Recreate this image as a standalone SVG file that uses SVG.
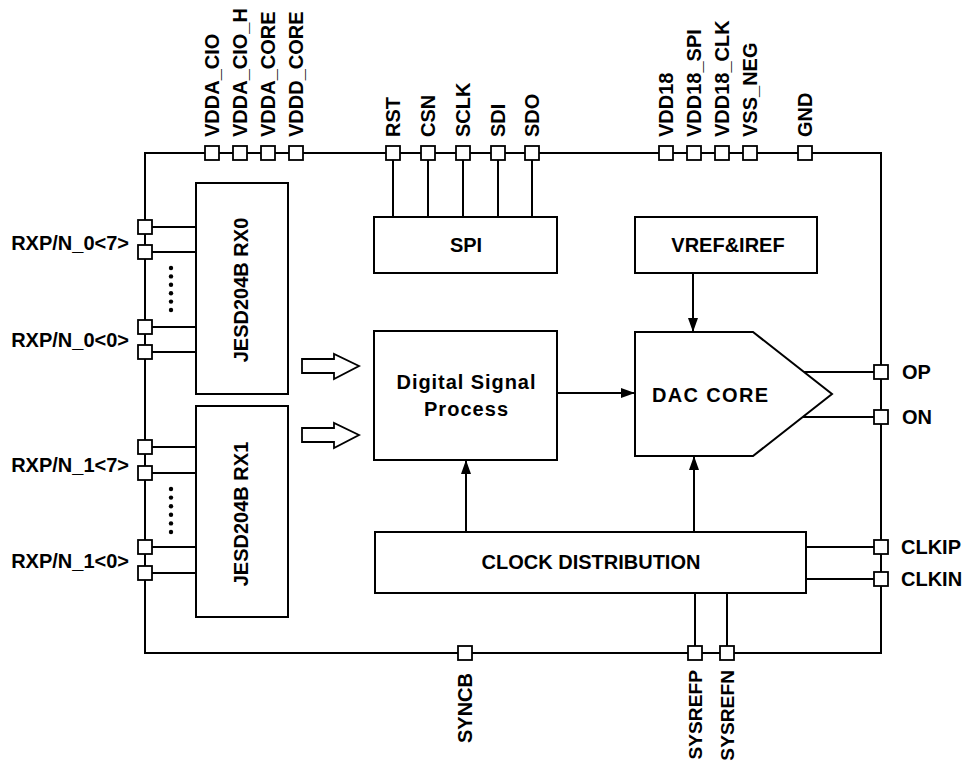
<svg xmlns="http://www.w3.org/2000/svg" width="962" height="763" viewBox="0 0 962 763">
<style>
.t{font-family:"Liberation Sans",Arial,sans-serif;font-weight:bold;font-size:20px;fill:#000}
.ts{font-size:19.2px}
.box{fill:#fff;stroke:#000;stroke-width:2}
.pin{fill:#fff;stroke:#000;stroke-width:1.8}
.w{fill:none;stroke:#000;stroke-width:2}
.hollow{fill:#fff;stroke:#000;stroke-width:1.8;stroke-linejoin:miter}
</style>
<defs>
<marker id="ah" markerUnits="userSpaceOnUse" markerWidth="14" markerHeight="10" viewBox="0 0 14 10" refX="14" refY="5" orient="auto">
<path d="M0,0 L14,5 L0,10 z" fill="#000"/>
</marker>
<rect id="p" x="-7" y="-7" width="14" height="14" class="pin"/>
</defs>
<rect id="white" x="0" y="0" width="962" height="763" fill="#fff"/>

<g id="frame">
<rect x="145" y="153" width="736" height="500" class="w"/>
</g>

<g id="connectors">
<path class="w" d="M393,160V217 M428,160V217 M463,160V217 M498,160V217 M532,160V217"/>
<path class="w" d="M152,227H196 M152,252H196 M152,327H196 M152,352H196"/>
<path class="w" d="M152,447H196 M152,473H196 M152,547H196 M152,573H196"/>
<path class="w" d="M693,273V332" marker-end="url(#ah)"/>
<path class="w" d="M557,393H635" marker-end="url(#ah)"/>
<path class="w" d="M466,532V460" marker-end="url(#ah)"/>
<path class="w" d="M694,532V456" marker-end="url(#ah)"/>
<path class="w" d="M695,593V646 M727,593V646"/>
<path class="w" d="M804,372H874 M803,417H874"/>
<path class="w" d="M806,547H874 M806,579H874"/>
<path class="hollow" d="M302,359H334V354L359,366L334,379V373H302Z"/>
<path class="hollow" d="M302,428H334V423L359,435L334,448V442H302Z"/>
</g>

<g id="pins-top">
<use href="#p" x="212" y="153"/><use href="#p" x="240" y="153"/><use href="#p" x="268" y="153"/><use href="#p" x="296" y="153"/>
<use href="#p" x="393" y="153"/><use href="#p" x="428" y="153"/><use href="#p" x="463" y="153"/><use href="#p" x="498" y="153"/><use href="#p" x="532" y="153"/>
<use href="#p" x="666" y="153"/><use href="#p" x="694" y="153"/><use href="#p" x="722" y="153"/><use href="#p" x="750" y="153"/>
<use href="#p" x="805" y="153"/>
<text class="t" transform="translate(219,137) rotate(-90)">VDDA_CIO</text>
<text class="t" transform="translate(247,137) rotate(-90)">VDDA_CIO_H</text>
<text class="t" transform="translate(275,137) rotate(-90)">VDDA_CORE</text>
<text class="t" transform="translate(303,137) rotate(-90)">VDDD_CORE</text>
<text class="t" transform="translate(400,137) rotate(-90)">RST</text>
<text class="t" transform="translate(435,137) rotate(-90)">CSN</text>
<text class="t" transform="translate(470,137) rotate(-90)">SCLK</text>
<text class="t" transform="translate(505,137) rotate(-90)">SDI</text>
<text class="t" transform="translate(539,137) rotate(-90)">SDO</text>
<text class="t" transform="translate(673,137) rotate(-90)">VDD18</text>
<text class="t" transform="translate(701,137) rotate(-90)">VDD18_SPI</text>
<text class="t" transform="translate(729,137) rotate(-90)">VDD18_CLK</text>
<text class="t" transform="translate(757,137) rotate(-90)">VSS_NEG</text>
<text class="t" transform="translate(812,137) rotate(-90)">GND</text>
</g>

<g id="pins-left">
<use href="#p" x="145" y="227"/><use href="#p" x="145" y="252"/><use href="#p" x="145" y="327"/><use href="#p" x="145" y="352"/>
<use href="#p" x="145" y="447"/><use href="#p" x="145" y="473"/><use href="#p" x="145" y="547"/><use href="#p" x="145" y="573"/>
<text class="t" x="129" y="250" text-anchor="end">RXP/N_0&lt;7&gt;</text>
<text class="t" x="129" y="347" text-anchor="end">RXP/N_0&lt;0&gt;</text>
<text class="t" x="129" y="472" text-anchor="end">RXP/N_1&lt;7&gt;</text>
<text class="t" x="129" y="568" text-anchor="end">RXP/N_1&lt;0&gt;</text>
<g fill="#000">
<circle cx="171" cy="268" r="2.2"/><circle cx="171" cy="276.4" r="2.2"/><circle cx="171" cy="284.8" r="2.2"/><circle cx="171" cy="293.2" r="2.2"/><circle cx="171" cy="301.6" r="2.2"/><circle cx="171" cy="310" r="2.2"/>
<circle cx="171" cy="489" r="2.2"/><circle cx="171" cy="497.6" r="2.2"/><circle cx="171" cy="506.2" r="2.2"/><circle cx="171" cy="514.8" r="2.2"/><circle cx="171" cy="523.4" r="2.2"/><circle cx="171" cy="532" r="2.2"/>
</g>
</g>

<g id="pins-right">
<use href="#p" x="881" y="372"/><use href="#p" x="881" y="417"/><use href="#p" x="881" y="547"/><use href="#p" x="881" y="579"/>
<text class="t" x="902" y="379">OP</text>
<text class="t" x="902" y="424">ON</text>
<text class="t" x="901" y="554">CLKIP</text>
<text class="t" x="901" y="586">CLKIN</text>
</g>

<g id="pins-bottom">
<use href="#p" x="465" y="653"/><use href="#p" x="695" y="653"/><use href="#p" x="727" y="653"/>
<text class="t" transform="translate(472,673) rotate(-90)" text-anchor="end">SYNCB</text>
<text class="t ts" transform="translate(702,670) rotate(-90)" text-anchor="end">SYSREFP</text>
<text class="t ts" transform="translate(734,670) rotate(-90)" text-anchor="end">SYSREFN</text>
</g>

<g id="jesd-rx0">
<rect x="196" y="183" width="92" height="211" class="box"/>
<text class="t" transform="translate(248,290) rotate(-90)" text-anchor="middle">JESD204B RX0</text>
</g>
<g id="jesd-rx1">
<rect x="196" y="406" width="92" height="211" class="box"/>
<text class="t" transform="translate(248,514) rotate(-90)" text-anchor="middle">JESD204B RX1</text>
</g>

<g id="spi">
<rect x="374" y="217" width="183" height="56" class="box"/>
<text class="t" x="466" y="252" text-anchor="middle">SPI</text>
</g>

<g id="vref">
<rect x="635" y="217" width="182" height="56" class="box"/>
<text class="t" x="728" y="252" text-anchor="middle">VREF&amp;IREF</text>
</g>

<g id="dsp">
<rect x="374" y="331" width="183" height="129" class="box"/>
<text class="t" x="466" y="389" text-anchor="middle" textLength="139" lengthAdjust="spacing">Digital Signal</text>
<text class="t" x="466" y="416" text-anchor="middle" textLength="84" lengthAdjust="spacing">Process</text>
</g>

<g id="dac-core">
<path d="M635,332H753L832,394L753,456H635Z" class="box"/>
<text class="t" x="710" y="402" text-anchor="middle" textLength="116" lengthAdjust="spacing">DAC CORE</text>
</g>

<g id="clock-distribution">
<rect x="375" y="532" width="431" height="61" class="box"/>
<text class="t" x="591" y="569" text-anchor="middle">CLOCK DISTRIBUTION</text>
</g>
</svg>
